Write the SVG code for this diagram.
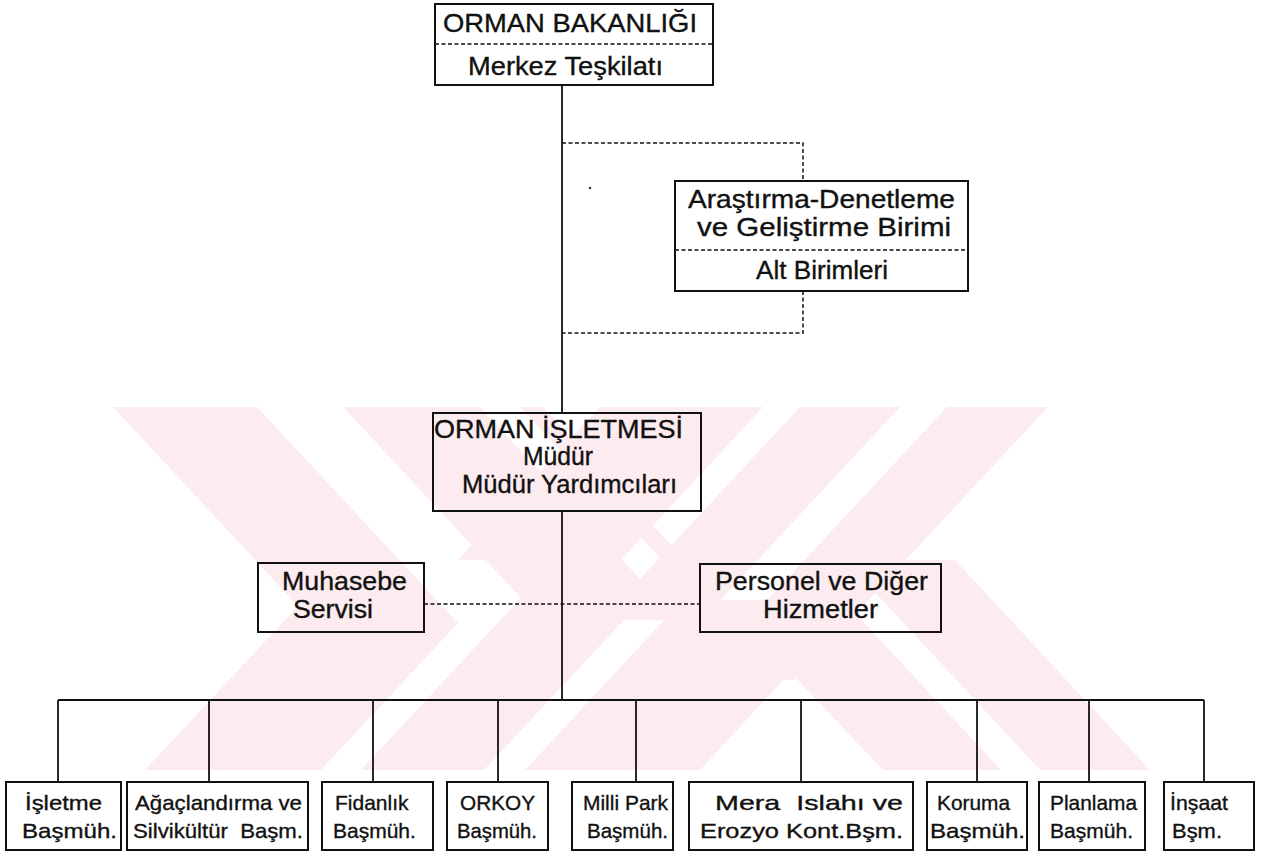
<svg xmlns="http://www.w3.org/2000/svg" width="1272" height="852" viewBox="0 0 1272 852">
<style>
.box{fill:none;stroke:#111;stroke-width:2}
.t{font-family:"Liberation Sans",Arial,sans-serif;fill:#111;stroke:#111;stroke-width:0.35}
.big{font-size:25px}
.sm{font-size:21px;white-space:pre}
.solid{stroke:#111;stroke-width:1.8;fill:none}
.dash{stroke:#111;stroke-width:1.5;stroke-dasharray:4 2.5;fill:none}
.wm{fill:#fcebef}
</style>
<defs>
<clipPath id="wmclip"><rect x="113" y="407" width="1047" height="363"/></clipPath>
</defs>
<g id="watermark" clip-path="url(#wmclip)">
<polygon class="wm" points="113,407 257,407 458,623 321,770 145,770 298,606"/>
<polygon class="wm" points="343,407 480,407 651,591 484,770 361,770 521,598"/>
<polygon class="wm" points="520,407 543,407 790,673 700,770 525,770 691,591"/>
<polygon class="wm" points="600,407 763,407 621,560 458,560"/>
<polygon class="wm" points="800,407 900,407 702,620 602,620"/>
<polygon class="wm" points="947,407 1048,407 794,680 693,680"/>
<polygon class="wm" points="722,600 843,600 1001,770 883,770"/>
<polygon class="wm" points="845,560 955,560 1150,770 1040,770"/>
</g>
<g id="connectors">
<line class="solid" x1="562" y1="86" x2="562" y2="413"/>
<line class="solid" x1="562" y1="511" x2="562" y2="700"/>
<polyline class="dash" points="562,143 803,143 803,181"/>
<polyline class="dash" points="803,291 803,333 562,333"/>
<line class="dash" x1="424" y1="604" x2="700" y2="604"/>
<line class="solid" x1="58" y1="700" x2="1204" y2="700"/>
<line class="solid" x1="58" y1="700" x2="58" y2="782"/>
<line class="solid" x1="209" y1="700" x2="209" y2="782"/>
<line class="solid" x1="373" y1="700" x2="373" y2="782"/>
<line class="solid" x1="498" y1="700" x2="498" y2="782"/>
<line class="solid" x1="636" y1="700" x2="636" y2="782"/>
<line class="solid" x1="801" y1="700" x2="801" y2="782"/>
<line class="solid" x1="977" y1="700" x2="977" y2="782"/>
<line class="solid" x1="1089" y1="700" x2="1089" y2="782"/>
<line class="solid" x1="1204" y1="700" x2="1204" y2="782"/>
</g>
<circle cx="590" cy="188" r="1.2" fill="#333"/>
<g id="n-bakanlik">
<rect class="box" x="435" y="4" width="278" height="81"/>
<line class="dash" x1="435" y1="44" x2="713" y2="44"/>
<text class="t big" x="443" y="32" textLength="254" lengthAdjust="spacingAndGlyphs">ORMAN BAKANLIĞI</text>
<text class="t big" x="468" y="75" textLength="195" lengthAdjust="spacingAndGlyphs">Merkez Teşkilatı</text>
</g>
<g id="n-arastirma">
<rect class="box" x="675" y="181" width="293" height="110"/>
<line class="dash" x1="675" y1="250" x2="968" y2="250"/>
<text class="t big" x="688" y="208" textLength="267" lengthAdjust="spacingAndGlyphs">Araştırma-Denetleme</text>
<text class="t big" x="697" y="236" textLength="254" lengthAdjust="spacingAndGlyphs">ve Geliştirme Birimi</text>
<text class="t big" x="756" y="279" textLength="132" lengthAdjust="spacingAndGlyphs">Alt Birimleri</text>
</g>
<g id="n-isletme">
<rect class="box" x="433" y="413" width="268" height="98"/>
<text class="t big" x="434" y="438" textLength="249" lengthAdjust="spacingAndGlyphs">ORMAN İŞLETMESİ</text>
<text class="t big" x="523" y="465" textLength="70" lengthAdjust="spacingAndGlyphs">Müdür</text>
<text class="t big" x="462" y="493" textLength="215" lengthAdjust="spacingAndGlyphs">Müdür Yardımcıları</text>
</g>
<g id="n-muhasebe">
<rect class="box" x="258" y="563" width="166" height="69"/>
<text class="t big" x="282" y="590" textLength="125" lengthAdjust="spacingAndGlyphs">Muhasebe</text>
<text class="t big" x="293" y="618" textLength="80" lengthAdjust="spacingAndGlyphs">Servisi</text>
</g>
<g id="n-personel">
<rect class="box" x="700" y="564" width="241" height="68"/>
<text class="t big" x="715" y="590" textLength="213" lengthAdjust="spacingAndGlyphs">Personel ve Diğer</text>
<text class="t big" x="763" y="618" textLength="115" lengthAdjust="spacingAndGlyphs">Hizmetler</text>
</g>
<g id="n-b1">
<rect class="box" x="6" y="782" width="115" height="68"/>
<text class="t sm" x="25" y="810" textLength="77" lengthAdjust="spacingAndGlyphs">İşletme</text>
<text class="t sm" x="22" y="838" textLength="95" lengthAdjust="spacingAndGlyphs">Başmüh.</text>
</g>
<g id="n-b2">
<rect class="box" x="127" y="782" width="181" height="68"/>
<text class="t sm" x="135" y="810" textLength="167" lengthAdjust="spacingAndGlyphs">Ağaçlandırma ve</text>
<text class="t sm" x="133" y="838" textLength="170" lengthAdjust="spacingAndGlyphs">Silvikültür  Başm.</text>
</g>
<g id="n-b3">
<rect class="box" x="322" y="782" width="111" height="68"/>
<text class="t sm" x="335" y="810">Fidanlık</text>
<text class="t sm" x="333" y="838">Başmüh.</text>
</g>
<g id="n-b4">
<rect class="box" x="447" y="782" width="101" height="68"/>
<text class="t sm" x="460" y="810" textLength="75" lengthAdjust="spacingAndGlyphs">ORKOY</text>
<text class="t sm" x="457" y="838" textLength="80" lengthAdjust="spacingAndGlyphs">Başmüh.</text>
</g>
<g id="n-b5">
<rect class="box" x="572" y="782" width="101" height="68"/>
<text class="t sm" x="583" y="810" textLength="85" lengthAdjust="spacingAndGlyphs">Milli Park</text>
<text class="t sm" x="587" y="838" textLength="81" lengthAdjust="spacingAndGlyphs">Başmüh.</text>
</g>
<g id="n-b6">
<rect class="box" x="689" y="782" width="224" height="68"/>
<text class="t sm" x="715" y="810" textLength="188" lengthAdjust="spacingAndGlyphs">Mera  Islahı ve</text>
<text class="t sm" x="700" y="838" textLength="203" lengthAdjust="spacingAndGlyphs">Erozyo Kont.Bşm.</text>
</g>
<g id="n-b7">
<rect class="box" x="927" y="782" width="100" height="68"/>
<text class="t sm" x="937" y="810" textLength="73" lengthAdjust="spacingAndGlyphs">Koruma</text>
<text class="t sm" x="930" y="838" textLength="95" lengthAdjust="spacingAndGlyphs">Başmüh.</text>
</g>
<g id="n-b8">
<rect class="box" x="1039" y="782" width="106" height="68"/>
<text class="t sm" x="1050" y="810" textLength="87" lengthAdjust="spacingAndGlyphs">Planlama</text>
<text class="t sm" x="1050" y="838" textLength="83" lengthAdjust="spacingAndGlyphs">Başmüh.</text>
</g>
<g id="n-b9">
<rect class="box" x="1164" y="782" width="90" height="68"/>
<text class="t sm" x="1170" y="810" textLength="58" lengthAdjust="spacingAndGlyphs">İnşaat</text>
<text class="t sm" x="1172" y="838" textLength="50" lengthAdjust="spacingAndGlyphs">Bşm.</text>
</g>
</svg>
